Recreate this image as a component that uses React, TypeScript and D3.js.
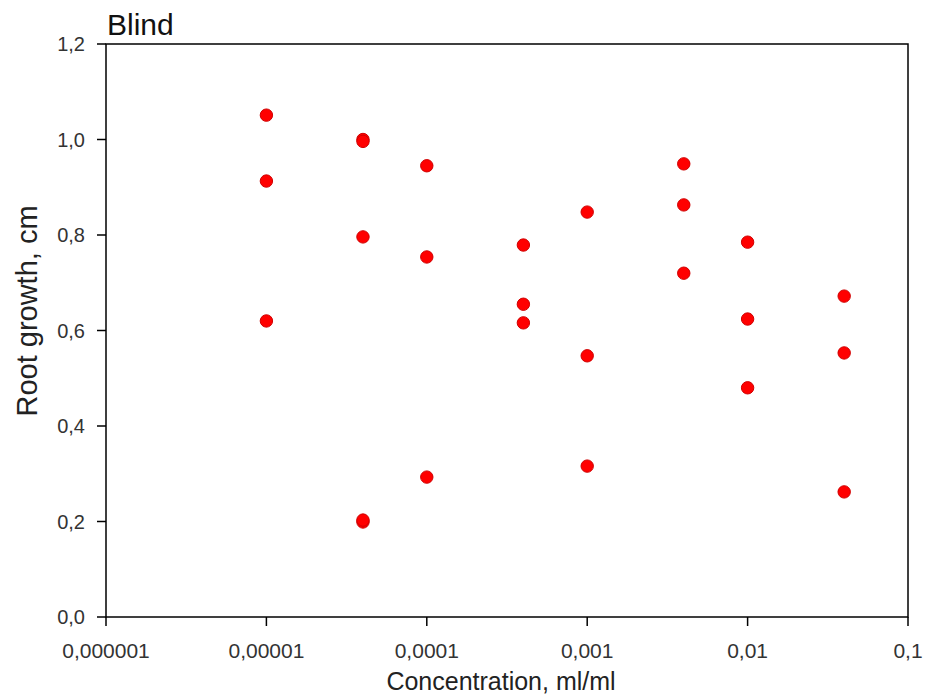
import React from 'react';
import * as d3 from 'd3';

// concentrations (ml/ml) and measured root growth (cm) at each
const concentrations = [0.00001, 0.00004, 0.0001, 0.0004, 0.001, 0.004, 0.01, 0.04];
const rootGrowth = [
  [1.051, 0.913, 0.620],
  [1.0, 0.996, 0.796, 0.199, 0.203],
  [0.945, 0.754, 0.293],
  [0.779, 0.655, 0.616],
  [0.848, 0.547, 0.316],
  [0.949, 0.863, 0.720],
  [0.785, 0.624, 0.480],
  [0.672, 0.553, 0.262],
];

const xTicks = [0.000001, 0.00001, 0.0001, 0.001, 0.01, 0.1];
const xTickLabels = ['0,000001', '0,00001', '0,0001', '0,001', '0,01', '0,1'];
const yTicks = [0, 0.2, 0.4, 0.6, 0.8, 1.0, 1.2];

const W = 925;
const H = 695;
const margin = { top: 44, right: 17, bottom: 78, left: 106 };

export default function App() {
  const innerW = W - margin.left - margin.right;
  const innerH = H - margin.top - margin.bottom;

  const x = d3.scaleLog().domain([0.000001, 0.1]).range([0, innerW]);
  const y = d3.scaleLinear().domain([0, 1.2]).range([innerH, 0]);

  const points = concentrations.flatMap((c, i) => rootGrowth[i].map(v => ({ c, v })));
  const fmtY = (v: number) => d3.format('.1f')(v).replace('.', ',');
  const font = 'Liberation Sans, Arial, sans-serif';

  return (
    <div style={{ position: 'absolute', left: 0, top: 0 }}>
      <svg width={W} height={H} style={{ display: 'block', background: '#fff' }} fontFamily={font}>
        <text x={107} y={35} fontSize={30} fill="#111">Blind</text>
        <g transform={`translate(${margin.left},${margin.top})`}>
          {/* frame */}
          <rect x={0} y={0} width={innerW} height={innerH} fill="none" stroke="#000" strokeWidth={1.5} />

          {/* y axis */}
          {yTicks.map(t => (
            <g key={'y' + t} transform={`translate(0,${y(t)})`}>
              <line x1={-9} x2={0} stroke="#000" strokeWidth={1.5} />
              <text x={-21} dy="0.35em" textAnchor="end" fontSize={20} fill="#333">{fmtY(t)}</text>
            </g>
          ))}

          {/* x axis */}
          {xTicks.map((t, i) => (
            <g key={'x' + t} transform={`translate(${x(t)},${innerH})`}>
              <line y1={0} y2={9} stroke="#000" strokeWidth={1.5} />
              <text y={41} textAnchor="middle" fontSize={21} fill="#333">{xTickLabels[i]}</text>
            </g>
          ))}

          {/* points */}
          {points.map((p, i) => (
            <circle key={i} cx={x(p.c)} cy={y(p.v)} r={6.2} fill="#ff0000" stroke="#d00000" strokeWidth={1} />
          ))}
        </g>

        <text x={501} y={690} textAnchor="middle" fontSize={25} fill="#222">Concentration, ml/ml</text>
        <text transform={`translate(37,311) rotate(-90)`} textAnchor="middle" fontSize={29} fill="#222">Root growth, cm</text>
      </svg>
    </div>
  );
}
